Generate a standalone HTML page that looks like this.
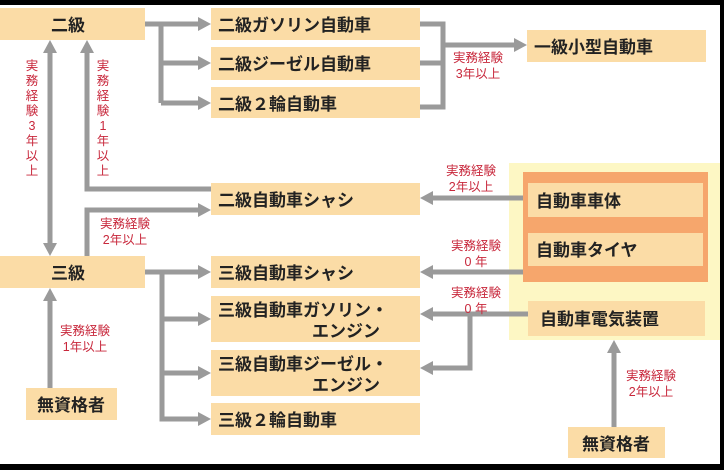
<!DOCTYPE html>
<html><head><meta charset="utf-8"><style>
html,body{margin:0;padding:0;background:#000;}
svg{display:block;}
.b{fill:#fbdca6;}
.t{font-family:"Liberation Sans","Noto Sans CJK JP",sans-serif;font-size:17px;font-weight:bold;fill:#222;}
.r{font-family:"Liberation Sans","Noto Sans CJK JP",sans-serif;font-size:12.5px;fill:#c8283c;}
.l{stroke:#9a9a9a;stroke-width:5;fill:none;}
.a{fill:#9a9a9a;}
</style></head><body>
<svg width="724" height="470" viewBox="0 0 724 470" xmlns="http://www.w3.org/2000/svg">
<rect x="0" y="5" width="720" height="459" fill="#fff"/>
<!-- yellow panel -->
<rect x="509" y="163" width="211" height="177" fill="#fdf7c4"/>
<rect x="523" y="172" width="185" height="110" fill="#f6a66c"/>
<rect x="528" y="183" width="175" height="34" class="b"/>
<rect x="528" y="233" width="175" height="33" class="b"/>
<rect x="528" y="301" width="177" height="35" class="b"/>
<text x="536" y="207" class="t">自動車車体</text>
<text x="536" y="256" class="t">自動車タイヤ</text>
<text x="540" y="325" class="t">自動車電気装置</text>
<!-- boxes -->
<rect x="0" y="8" width="145" height="32" class="b"/>
<text x="68" y="31" class="t" text-anchor="middle">二級</text>
<rect x="211" y="8" width="209" height="32" class="b"/>
<text x="218" y="31" class="t">二級ガソリン自動車</text>
<rect x="211" y="47" width="209" height="33" class="b"/>
<text x="218" y="70" class="t">二級ジーゼル自動車</text>
<rect x="211" y="87" width="209" height="31" class="b"/>
<text x="218" y="110" class="t">二級２輪自動車</text>
<rect x="527" y="30" width="179" height="32" class="b"/>
<text x="534" y="53" class="t">一級小型自動車</text>
<rect x="211" y="183" width="209" height="32" class="b"/>
<text x="218" y="206" class="t">二級自動車シャシ</text>
<rect x="0" y="256" width="145" height="32" class="b"/>
<text x="68" y="279" class="t" text-anchor="middle">三級</text>
<rect x="211" y="256" width="209" height="32" class="b"/>
<text x="218" y="279" class="t">三級自動車シャシ</text>
<rect x="211" y="296" width="209" height="46" class="b"/>
<text x="218" y="316" class="t">三級自動車ガソリン・</text>
<text x="312" y="337" class="t">エンジン</text>
<rect x="211" y="350" width="209" height="46" class="b"/>
<text x="218" y="370" class="t">三級自動車ジーゼル・</text>
<text x="312" y="391" class="t">エンジン</text>
<rect x="211" y="403" width="209" height="32" class="b"/>
<text x="218" y="426" class="t">三級２輪自動車</text>
<rect x="26" y="388" width="91" height="32" class="b"/>
<text x="71" y="411" class="t" text-anchor="middle">無資格者</text>
<rect x="568" y="427" width="97" height="31" class="b"/>
<text x="616" y="450" class="t" text-anchor="middle">無資格者</text>
<!-- lines -->
<path class="l" d="M145 24H161M161 24V103M161 24H199M161 63H199M161 103H199"/>
<polygon class="a" points="198,17 211,24 198,31"/><polygon class="a" points="198,56 211,63 198,70"/><polygon class="a" points="198,96 211,103 198,110"/>
<path class="l" d="M420 24H443V107H420M420 63H443M443 45H514"/>
<polygon class="a" points="514,38 527,45 514,52"/>
<path class="l" d="M50 52V244"/>
<polygon class="a" points="43,53 50,40 57,53"/><polygon class="a" points="43,243 50,256 57,243"/>
<path class="l" d="M87 52V189H211"/>
<polygon class="a" points="80,53 87,40 94,53"/>
<path class="l" d="M87 256V210H199"/>
<polygon class="a" points="198,203 211,210 198,217"/>
<path class="l" d="M145 272H162M162 272V419H199M162 272H199M162 319H199M162 373H199"/>
<polygon class="a" points="198,265 211,272 198,279"/><polygon class="a" points="198,312 211,319 198,326"/><polygon class="a" points="198,366 211,373 198,380"/><polygon class="a" points="198,412 211,419 198,426"/>
<path class="l" d="M50 388V300"/>
<polygon class="a" points="43,301 50,288 57,301"/>
<path class="l" d="M523 198H432M523 272H432M528 314H432M470 314V368H432"/>
<polygon class="a" points="433,191 420,198 433,205"/><polygon class="a" points="433,265 420,272 433,279"/><polygon class="a" points="433,307 420,314 433,321"/><polygon class="a" points="433,361 420,368 433,375"/>
<path class="l" d="M614 427V352"/>
<polygon class="a" points="607,353 614,340 621,353"/>
<!-- labels -->
<text class="r" x="478" y="62" text-anchor="middle">実務経験</text>
<text class="r" x="478" y="78" text-anchor="middle">3年以上</text>
<g class="r" text-anchor="middle">
<text x="32" y="70">実</text><text x="32" y="85">務</text><text x="32" y="100">経</text><text x="32" y="115">験</text><text x="32" y="130">3</text><text x="32" y="145">年</text><text x="32" y="160">以</text><text x="32" y="175">上</text>
<text x="103" y="70">実</text><text x="103" y="85">務</text><text x="103" y="100">経</text><text x="103" y="115">験</text><text x="103" y="130">1</text><text x="103" y="145">年</text><text x="103" y="160">以</text><text x="103" y="175">上</text>
</g>
<text class="r" x="125" y="228" text-anchor="middle">実務経験</text>
<text class="r" x="125" y="244" text-anchor="middle">2年以上</text>
<text class="r" x="85" y="335" text-anchor="middle">実務経験</text>
<text class="r" x="85" y="351" text-anchor="middle">1年以上</text>
<text class="r" x="471" y="175" text-anchor="middle">実務経験</text>
<text class="r" x="471" y="191" text-anchor="middle">2年以上</text>
<text class="r" x="476" y="250" text-anchor="middle">実務経験</text>
<text class="r" x="476" y="266" text-anchor="middle">0 年</text>
<text class="r" x="476" y="297" text-anchor="middle">実務経験</text>
<text class="r" x="476" y="313" text-anchor="middle">0 年</text>
<text class="r" x="651" y="380" text-anchor="middle">実務経験</text>
<text class="r" x="651" y="396" text-anchor="middle">2年以上</text>
</svg>
</body></html>
